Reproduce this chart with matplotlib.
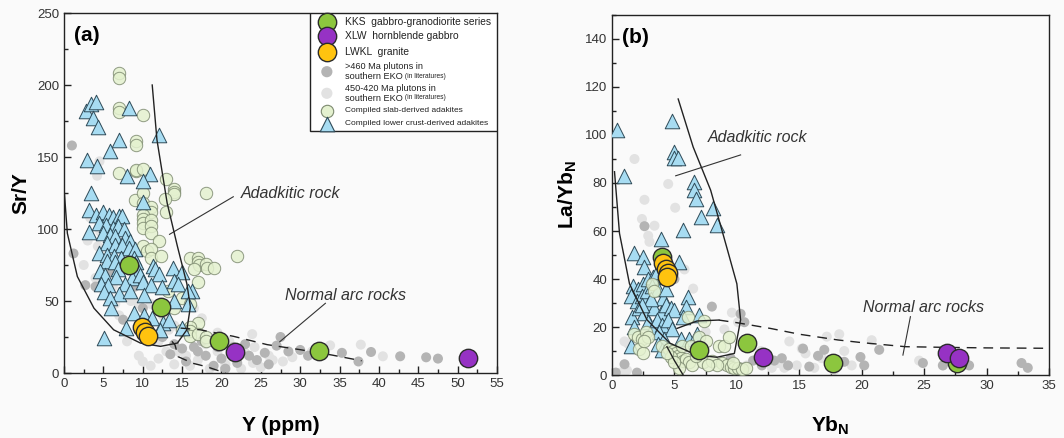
import matplotlib
matplotlib.use('Agg')
import matplotlib.pyplot as plt
from matplotlib.ticker import MultipleLocator

plt.rcParams['font.family'] = ['Liberation Sans', 'DejaVu Sans']
plt.rcParams['mathtext.fontset'] = 'custom'
plt.rcParams['mathtext.bf'] = 'Liberation Sans:bold'
plt.rcParams['mathtext.rm'] = 'Liberation Sans'

# ---------------- panel (a): Sr/Y vs Y ----------------
kks_a_x = [8.2, 12.3, 19.7, 32.4]
kks_a_y = [75, 46, 22.5, 15]
xlw_a_x = [21.7, 51.3]
xlw_a_y = [14.5, 10.5]
lwkl_a_x = [9.9, 10.3, 10.7]
lwkl_a_y = [32, 28.5, 26]

tri_a = [(2.8, 182), (3.4, 187), (4.0, 188), (3.7, 177), (4.3, 171), (8.2, 184),
         (12.0, 165), (7.0, 162), (5.9, 154), (2.9, 148), (4.2, 144), (8.0, 137),
         (10.9, 138), (10.0, 133), (3.4, 125), (10.0, 119), (3.2, 113), (3.2, 98),
         (4.0, 110), (5.0, 112), (5.7, 110), (6.2, 108), (7.0, 109), (7.4, 109),
         (4.5, 104), (5.3, 103), (6.2, 101), (6.9, 102), (7.6, 100),
         (5.0, 97), (5.8, 96), (6.5, 95), (7.8, 94), (8.4, 92),
         (5.5, 90), (6.5, 89), (7.3, 89), (8.2, 87), (9.0, 86),
         (4.5, 83), (5.5, 82), (6.4, 81), (7.2, 80), (8.9, 80),
         (5.5, 78), (6.5, 77), (9.2, 77), (11.3, 74), (13.9, 73),
         (4.6, 71), (6.8, 72), (9.4, 71), (11.5, 72), (15.0, 70),
         (5.2, 68), (6.6, 67), (8.6, 66), (9.6, 68), (12.0, 69), (14.0, 64),
         (4.7, 62), (5.6, 61), (7.8, 62), (10.0, 63), (11.0, 61), (12.5, 60), (16.3, 57),
         (5.1, 56), (7.0, 55), (8.4, 57), (10.1, 54), (14.5, 62),
         (5.8, 52), (6.0, 45), (14.0, 50), (15.8, 57),
         (8.9, 42), (10.1, 40), (11.2, 38), (12.6, 35), (13.3, 37),
         (7.9, 31), (12.2, 30), (15.0, 31), (15.8, 48), (5.1, 24)]

slab_a = [(7.0, 208), (7.0, 205), (7.0, 184), (7.0, 181), (10.0, 179),
          (9.1, 161), (9.1, 158), (7.0, 139), (9.1, 140), (9.2, 141), (10.0, 142),
          (13.0, 135), (14.0, 128), (14.0, 126), (14.0, 124), (18.0, 125),
          (9.0, 120), (12.8, 121), (10.0, 125), (10.0, 118), (11.0, 115), (11.1, 112),
          (13.0, 112), (10.0, 110), (10.0, 107), (10.0, 104), (10.0, 101),
          (11.0, 106), (11.0, 102), (11.1, 97), (12.0, 92), (10.0, 88), (10.5, 85),
          (11.0, 86), (11.1, 80), (12.3, 81), (16.0, 80), (17.0, 80), (17.0, 77),
          (17.2, 75), (18.0, 76), (18.1, 73), (19.0, 73), (22.0, 81), (16.5, 72),
          (17.0, 63), (13.2, 57), (15.0, 52), (16.0, 48), (14.0, 45), (17.0, 35),
          (16.0, 32), (16.0, 29), (16.0, 26), (17.0, 27), (18.0, 25), (18.0, 22), (15.0, 30)]

old_a = [(1.0, 158), (1.2, 83), (2.7, 61), (10.0, 45), (7.5, 37), (11.0, 36), (12.5, 25),
         (14.0, 20), (15.5, 8), (17.0, 15), (18.0, 12), (19.0, 5), (20.0, 10), (21.5, 18),
         (22.0, 7), (23.5, 12), (24.5, 9), (25.5, 14), (26.0, 6), (27.0, 19), (27.5, 25),
         (28.5, 15), (30.0, 16), (31.0, 12), (35.3, 14), (37.4, 8), (39.0, 14.6),
         (42.7, 11.6), (46.0, 10.9), (47.5, 10), (17.5, 22), (16.5, 18), (13.5, 13),
         (9.0, 60), (6.0, 70), (4.0, 60), (19.5, 18), (23.0, 20), (20.5, 3), (15.0, 17)]

young_a = [(4.5, 147), (4.2, 137), (3.3, 108), (4.6, 98), (3.0, 92), (4.3, 88), (2.5, 75),
           (4.0, 66), (6.2, 60), (8.5, 50), (9.5, 48), (11.0, 48), (12.5, 40), (13.3, 30),
           (14.0, 33), (12.0, 22), (10.0, 8), (11.0, 5), (13.0, 15), (14.5, 15), (15.5, 12),
           (16.0, 5), (17.0, 9), (18.0, 20), (18.5, 3), (19.5, 15), (20.5, 6), (21.0, 22),
           (22.5, 3), (23.0, 14), (23.9, 27), (24.2, 18), (25.0, 4), (26.0, 12), (26.5, 9),
           (27.8, 8), (29.0, 11), (31.5, 15), (33.8, 19.2), (37.7, 19.7), (40.5, 11.6),
           (8.0, 22), (7.0, 40), (6.5, 48), (16.5, 45), (17.5, 38), (19.5, 28),
           (12.0, 10), (14.0, 6), (21.5, 11), (24.0, 7), (9.5, 12)]

# field boundaries (a)
adak_a_x = [0, 0.42, 1.69, 3.8, 6.3, 9.7, 12.25, 14.4, 15.6, 16.05, 15.6, 14.4, 13.1, 11.8, 11.2]
adak_a_y = [128, 97, 67, 45, 30, 20.8, 18.5, 20.8, 30, 46, 62, 88, 118, 162, 200]
arc_a_x = [14.8, 17.3, 21.5, 25.8, 30.0, 34.0, 37.8]
arc_a_y = [31.2, 30.0, 25.5, 19.7, 16.2, 12.5, 8.5]
low_a_x = [13.7, 14.1, 14.5, 16.4, 18.1, 20.5]
low_a_y = [22, 19.4, 11.3, 6.7, 4.4, 0]

# ---------------- panel (b): La/YbN vs YbN ----------------
kks_b_x = [4.0, 7.0, 10.8, 17.7, 27.6]
kks_b_y = [49.3, 10.4, 13.2, 4.9, 4.9]
xlw_b_x = [12.1, 26.8, 27.8]
xlw_b_y = [7.6, 9.0, 6.9]
lwkl_b_x = [4.1, 4.3, 4.5, 4.4]
lwkl_b_y = [46.5, 44, 42.5, 41]

tri_b = [(0.4, 102), (1.0, 83), (4.8, 106), (5.0, 93), (5.0, 90.5), (5.3, 90.5),
         (6.6, 80.5), (6.6, 77), (6.7, 73.5), (7.1, 66), (8.1, 69.5), (8.4, 62.5),
         (5.7, 60.5), (3.9, 56.5), (1.8, 51), (2.5, 49), (2.6, 45), (5.4, 47),
         (1.7, 37), (2.1, 36), (2.5, 38), (2.9, 40), (3.3, 41), (3.6, 43), (1.5, 33),
         (2.0, 31), (2.4, 33), (2.8, 35), (3.2, 37), (3.7, 36), (4.1, 32),
         (1.6, 24), (1.8, 20), (2.2, 28), (2.6, 26), (3.0, 30), (3.4, 28), (3.9, 26),
         (4.3, 29), (4.7, 28), (5.0, 27), (2.9, 22), (3.3, 20), (3.6, 23), (4.0, 21),
         (4.5, 23), (4.8, 19), (3.8, 18), (4.2, 15), (3.7, 13), (4.0, 10.5), (1.5, 12),
         (6.1, 32.5), (5.9, 28.5), (5.7, 24), (7.0, 25), (5.5, 15), (6.2, 15), (6.8, 17),
         (4.3, 36), (3.1, 31.5), (2.4, 29)]

slab_b = [(1.8, 17), (2.1, 16), (2.4, 15), (2.2, 11), (2.5, 9), (2.7, 18), (2.9, 16),
          (2.6, 14), (3.2, 38), (3.4, 35), (4.0, 12), (4.6, 11), (4.9, 10), (5.1, 9),
          (5.3, 8), (5.5, 7), (5.7, 6), (5.9, 6.5), (6.2, 5.5), (6.4, 4), (5.4, 3),
          (5.6, 12), (6.3, 12), (6.1, 24), (7.0, 16), (7.5, 14), (7.4, 22.5), (7.3, 5.5),
          (8.0, 6), (8.6, 12), (9.0, 12), (8.8, 5), (9.2, 4), (9.5, 3.5), (9.8, 3),
          (10.1, 2.8), (10.4, 2.6), (10.7, 2.8), (9.4, 16), (9.7, 5), (8.4, 4), (6.7, 8),
          (7.7, 4), (6.9, 11), (4.7, 7.5), (5.0, 5.5), (4.4, 9)]

young_b = [(1.8, 90), (4.5, 79.6), (2.6, 73), (5.06, 69.7), (2.4, 65), (3.4, 62.2),
           (2.9, 58), (3.0, 55.5), (5.8, 44), (4.9, 40), (1.0, 14), (1.3, 13), (0.7, 1),
           (1.2, 2), (6.5, 36), (9.6, 26), (10.1, 22), (11.2, 14), (11.9, 10), (12.5, 6),
           (13.3, 5), (13.8, 3), (14.2, 14), (14.8, 4), (15.2, 11), (15.5, 9), (16.2, 3),
           (16.8, 7), (17.2, 16), (17.8, 2), (18.6, 10), (18.2, 17), (19.2, 4), (20.8, 14.5),
           (24.6, 6), (26.5, 4), (9.0, 19), (10.8, 4), (12.8, 3), (7.5, 18)]

old_b = [(2.6, 62), (1.0, 4.5), (2.0, 1), (0.3, 1), (5.0, 40), (8.0, 28.5), (10.3, 25.5),
         (10.6, 22), (11.3, 6), (12.0, 4), (13.6, 7), (14.1, 4), (15.3, 11), (15.8, 3.5),
         (16.5, 8), (17.0, 10.5), (18.6, 5.5), (19.9, 7.5), (20.2, 4), (21.4, 10.5),
         (24.9, 5), (26.5, 4), (28.6, 4), (32.8, 5), (33.3, 3), (9.5, 7), (13.0, 6)]

# field boundaries (b)
adak_b_x = [0.2, 0.6, 1.4, 2.8, 4.65, 6.8, 8.4, 9.8, 10.3, 10.0, 9.2, 7.9, 6.5, 5.3]
adak_b_y = [84.7, 59, 38, 23, 13.2, 8.3, 7.4, 9, 23, 38, 53, 77, 95, 115]
join_b_x = [5.2, 6.8, 8.55]
join_b_y = [19.4, 22.5, 22.9]
arc_b_x = [8.55, 10.0, 12.7, 15.0, 18.1, 20.0, 23.5, 27.0, 30.0, 36.0]
arc_b_y = [22.9, 21.8, 19.4, 17.0, 14.6, 13.5, 11.8, 11.5, 11.3, 11.1]
low_b_x = [4.4, 5.0, 5.7]
low_b_y = [11.8, 6.0, 0]

# colours
c_kks = '#8cc63e'
c_xlw = '#9632c4'
c_lwkl = '#ffc30f'
c_old = '#b4b4b4'
c_young = '#e2e2e2'
c_slab = '#e4f1cf'
c_tri = '#a7dcf2'
bg = '#fafafa'

fig = plt.figure(figsize=(10.64, 4.38), dpi=100, facecolor=bg)
ax1 = fig.add_axes([0.0602, 0.1484, 0.4069, 0.8219])
ax2 = fig.add_axes([0.5752, 0.1438, 0.4107, 0.822])


def xs(pts):
    return [p[0] for p in pts]


def ys(pts):
    return [p[1] for p in pts]


def draw_points(ax, old, young, slab, tri, kx, ky, xx, xy, lx, ly, slab_on_top):
    ax.scatter(xs(young), ys(young), s=52, c=c_young, edgecolors='none', zorder=2)
    ax.scatter(xs(old), ys(old), s=52, c=c_old, edgecolors='none', zorder=2)
    zs = 4 if slab_on_top else 3
    ax.scatter(xs(slab), ys(slab), s=80, c=c_slab, edgecolors='#7d8a70', linewidths=0.7,
               alpha=0.85, zorder=zs)
    ax.scatter(xs(tri), ys(tri), s=110, marker='^', c=c_tri, edgecolors='#2e4a58',
               linewidths=0.7, zorder=3.5)
    ax.scatter(kx, ky, s=175, c=c_kks, edgecolors='#2b2b2b', linewidths=1.0, zorder=6)
    ax.scatter(xx, xy, s=175, c=c_xlw, edgecolors='#2b2b2b', linewidths=1.0, zorder=6)
    ax.scatter(lx, ly, s=175, c=c_lwkl, edgecolors='#2b2b2b', linewidths=1.0, zorder=6)


for ax in (ax1, ax2):
    ax.set_facecolor(bg)
    for sp in ax.spines.values():
        sp.set_linewidth(1.0)
        sp.set_color('#222222')
    ax.tick_params(which='both', direction='in', top=False, right=False,
                   labelsize=9.5, labelcolor='#333333', color='#222222')
    ax.tick_params(which='major', length=5, width=1)
    ax.tick_params(which='minor', length=3, width=1)

# ----- panel a -----
draw_points(ax1, old_a, young_a, slab_a, tri_a, kks_a_x, kks_a_y, xlw_a_x, xlw_a_y,
            lwkl_a_x, lwkl_a_y, slab_on_top=False)
ax1.plot(adak_a_x, adak_a_y, color='#222222', lw=1.0, zorder=5)
ax1.plot(arc_a_x, arc_a_y, color='#222222', lw=1.0, dashes=(7, 5), zorder=5)
ax1.plot(low_a_x, low_a_y, color='#222222', lw=1.0, dashes=(7, 5), zorder=5)
ax1.set_xlim(0, 55)
ax1.set_ylim(0, 250)
ax1.xaxis.set_major_locator(MultipleLocator(5))
ax1.xaxis.set_minor_locator(MultipleLocator(2.5))
ax1.yaxis.set_major_locator(MultipleLocator(50))
ax1.yaxis.set_minor_locator(MultipleLocator(25))
ax1.set_xlabel('Y (ppm)', fontsize=15, fontweight='bold', labelpad=19)
ax1.set_ylabel('Sr/Y', fontsize=15, fontweight='bold', labelpad=5)
ax1.text(0.022, 0.965, '(a)', transform=ax1.transAxes, fontsize=15, fontweight='bold',
         va='top', ha='left')
ax1.text(22.4, 125, 'Adadkitic rock', fontsize=11.5, style='italic', color='#333333',
         va='center')
ax1.plot([21.5, 13.4], [122.4, 96.3], color='#333333', lw=0.8)
ax1.text(28.1, 53.5, 'Normal arc rocks', fontsize=11.5, style='italic', color='#333333',
         va='center')
ax1.plot([33.2, 27.4], [48.4, 21.7], color='#333333', lw=0.8)

# legend drawn in axes fraction
ax1.add_patch(plt.Rectangle((0.568, 0.672), 0.432, 0.328, transform=ax1.transAxes,
                            facecolor='white', edgecolor='#222222', lw=1.0, zorder=8))
leg_mx = 0.607
leg_tx = 0.649
leg_items = [
    (0.976, dict(s=175, c=c_kks, edgecolors='#2b2b2b', linewidths=1.0, marker='o')),
    (0.937, dict(s=175, c=c_xlw, edgecolors='#2b2b2b', linewidths=1.0, marker='o')),
    (0.8925, dict(s=175, c=c_lwkl, edgecolors='#2b2b2b', linewidths=1.0, marker='o')),
    (0.837, dict(s=65, c=c_old, edgecolors='none', marker='o')),
    (0.777, dict(s=65, c=c_young, edgecolors='none', marker='o')),
    (0.728, dict(s=80, c=c_slab, edgecolors='#7d8a70', linewidths=0.8, marker='o')),
    (0.692, dict(s=110, c=c_tri, edgecolors='#2e4a58', linewidths=0.8, marker='^')),
]
for yy, kw in leg_items:
    ax1.scatter([leg_mx], [yy], transform=ax1.transAxes, zorder=9, clip_on=False, **kw)
tkw = dict(transform=ax1.transAxes, va='center', ha='left', zorder=9, color='#222222')
ax1.text(leg_tx, 0.976, 'KKS  gabbro-granodiorite series', fontsize=7.4, **tkw)
ax1.text(leg_tx, 0.937, 'XLW  hornblende gabbro', fontsize=7.4, **tkw)
ax1.text(leg_tx, 0.8925, 'LWKL  granite', fontsize=7.4, **tkw)
ax1.text(leg_tx, 0.851, '>460 Ma plutons in', fontsize=6.6, **tkw)
t1 = ax1.text(leg_tx, 0.823, 'southern EKO', fontsize=6.6, **tkw)
ax1.annotate(' (in literatures)', xy=(1, 0.15), xycoords=t1, fontsize=4.8, va='bottom',
             ha='left', zorder=9, color='#222222')
ax1.text(leg_tx, 0.791, '450-420 Ma plutons in', fontsize=6.6, **tkw)
t2 = ax1.text(leg_tx, 0.763, 'southern EKO', fontsize=6.6, **tkw)
ax1.annotate(' (in literatures)', xy=(1, 0.15), xycoords=t2, fontsize=4.8, va='bottom',
             ha='left', zorder=9, color='#222222')
ax1.text(leg_tx, 0.728, 'Compiled slab-derived adakites', fontsize=6.0, **tkw)
ax1.text(leg_tx, 0.692, 'Compiled lower crust-derived adakites', fontsize=6.0, **tkw)

# ----- panel b -----
draw_points(ax2, old_b, young_b, slab_b, tri_b, kks_b_x, kks_b_y, xlw_b_x, xlw_b_y,
            lwkl_b_x, lwkl_b_y, slab_on_top=True)
ax2.plot(adak_b_x, adak_b_y, color='#222222', lw=1.0, zorder=5)
ax2.plot(join_b_x, join_b_y, color='#222222', lw=1.0, zorder=5)
ax2.plot(low_b_x, low_b_y, color='#222222', lw=1.0, zorder=5)
ax2.plot(arc_b_x, arc_b_y, color='#222222', lw=1.0, dashes=(7, 5), zorder=5)
ax2.set_xlim(0, 35)
ax2.set_ylim(0, 150)
ax2.xaxis.set_major_locator(MultipleLocator(5))
ax2.xaxis.set_minor_locator(MultipleLocator(2.5))
ax2.yaxis.set_major_locator(MultipleLocator(20))
ax2.yaxis.set_minor_locator(MultipleLocator(10))
ax2.set_xlabel(r'Yb$_{\mathbf{N}}$', fontsize=15, fontweight='bold', labelpad=16)
ax2.set_ylabel(r'La/Yb$_{\mathbf{N}}$', fontsize=15, fontweight='bold', labelpad=4)
ax2.text(0.022, 0.965, '(b)', transform=ax2.transAxes, fontsize=15, fontweight='bold',
         va='top', ha='left')
ax2.text(7.7, 99, 'Adadkitic rock', fontsize=11.5, style='italic', color='#333333',
         va='center')
ax2.plot([10.3, 5.1], [91.7, 83], color='#333333', lw=0.8)
ax2.text(20.1, 28, 'Normal arc rocks', fontsize=11.5, style='italic', color='#333333',
         va='center')
ax2.plot([23.9, 23.3], [24.3, 8.3], color='#333333', lw=0.8)

fig.savefig('out.png', dpi=100, facecolor=bg)
